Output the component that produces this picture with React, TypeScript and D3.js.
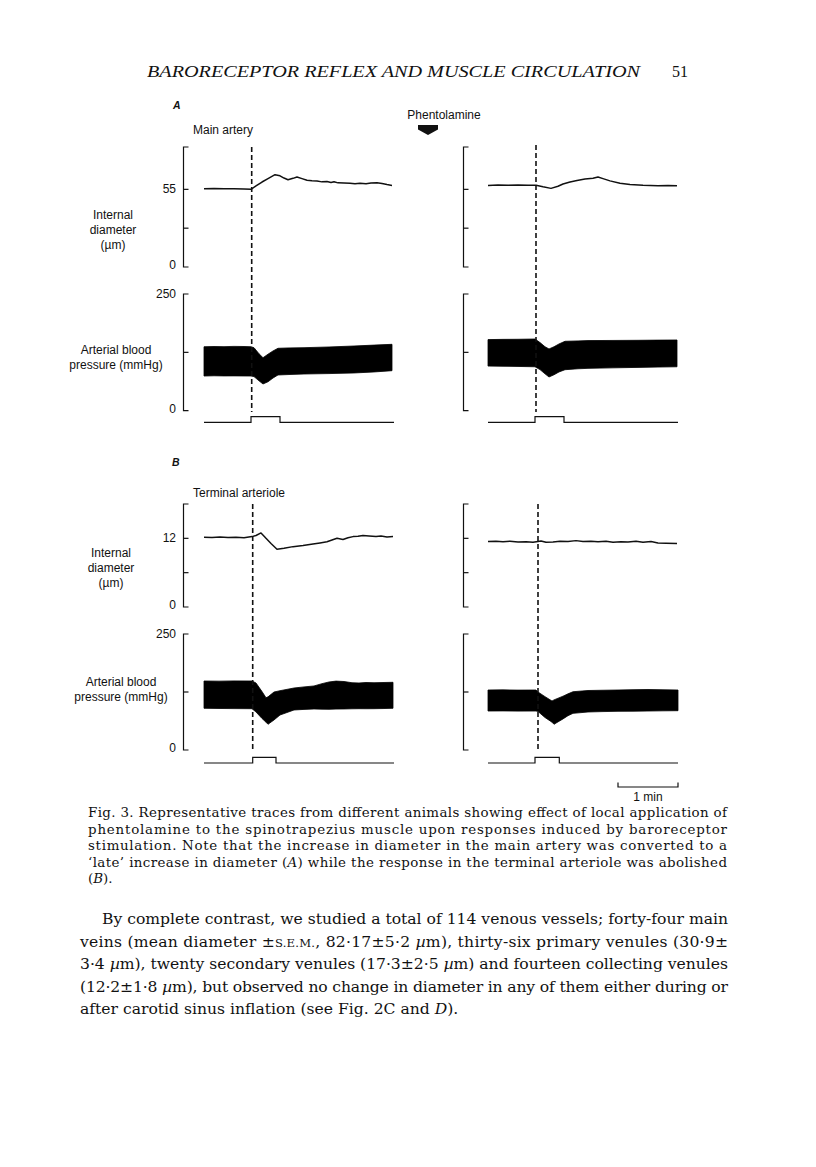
import * as d3 from "d3";
import React from "react";

// time (s from start of trace), diameter (µm)
const arteryDiamControl: [number, number][] = [
  [0, 55.5], [10, 55.6], [20, 55.4], [30, 55.4], [40, 55.2], [47, 55.0],
  [52, 57.4], [58, 60.2], [64, 62.6], [71, 65.4], [76, 64.6], [80, 63.0],
  [84, 61.8], [89, 62.8], [93, 63.7], [98, 62.6], [103, 61.4], [108, 61.1],
  [113, 60.9], [118, 60.3], [123, 60.6], [127, 59.9], [130, 60.4], [134, 59.6],
  [140, 59.5], [146, 59.4], [151, 58.9], [156, 59.4], [162, 59.0], [167, 59.5],
  [173, 59.7], [178, 59.1], [183, 58.4], [188, 57.8],
];
const arteryDiamPhent: [number, number][] = [
  [0, 57.8], [10, 58.0], [20, 57.9], [30, 58.0], [40, 57.9], [48, 57.9],
  [55, 56.8], [63, 55.7], [70, 57.2], [75, 58.8], [82, 60.2], [89, 61.3],
  [97, 62.3], [105, 62.9], [110, 63.7], [115, 62.6], [122, 61.0], [132, 59.3],
  [142, 58.4], [155, 57.9], [170, 57.6], [180, 57.8], [189, 57.6],
];
const arterioleDiamControl: [number, number][] = [
  [0, 12.2], [8, 12.15], [16, 12.25], [24, 12.15], [32, 12.2], [40, 12.1],
  [48, 12.3], [52, 12.5], [57, 12.95], [62, 12.0], [67, 11.1], [73, 10.1],
  [80, 10.25], [89, 10.55], [99, 10.75], [109, 11.0], [116, 11.2], [123, 11.4],
  [128, 11.7], [133, 12.0], [139, 11.8], [144, 12.1], [149, 12.3], [154, 12.35],
  [159, 12.5], [165, 12.4], [172, 12.3], [177, 12.4], [183, 12.25], [189, 12.3],
];
const arterioleDiamPhent: [number, number][] = [
  [0, 11.45], [8, 11.5], [15, 11.4], [22, 11.5], [30, 11.35], [38, 11.4],
  [45, 11.3], [50, 11.45], [53, 11.55], [58, 11.3], [65, 11.35], [72, 11.5],
  [80, 11.45], [88, 11.6], [95, 11.45], [103, 11.5], [110, 11.4], [118, 11.5],
  [125, 11.3], [133, 11.4], [140, 11.35], [148, 11.5], [155, 11.3], [163, 11.45],
  [170, 11.2], [178, 11.15], [189, 11.1],
];

// time, diastolic, systolic (mmHg)
const bpArteryControl: [number, number, number][] = [
  [0, 74.3, 137], [10, 74.8, 137.5], [20, 74.5, 137.2], [30, 74.6, 137.8],
  [40, 74.4, 137.5], [47, 74.3, 137], [50, 73, 135], [55, 64, 122],
  [59, 57.2, 113.5], [64, 62, 121], [69, 70, 128], [74, 76.5, 133.7],
  [85, 77.5, 134.5], [100, 78.6, 135], [125, 79.5, 136.5], [150, 80.8, 138.6],
  [170, 83, 140.5], [188, 85.7, 142.2],
];
const bpArteryPhent: [number, number, number][] = [
  [0, 95.6, 152.3], [15, 95.2, 152.8], [30, 94.8, 153], [47, 94.1, 153.6],
  [52, 88, 146], [57, 79, 137], [61, 72.2, 132.3], [66, 77, 137],
  [71, 83, 143], [77, 87.8, 148.7], [90, 89.8, 149.5], [100, 90.7, 150.2],
  [125, 91.8, 150.5], [150, 92.8, 150.8], [170, 93.5, 151.2], [189, 94.1, 151.5],
];
const bpArterioleControl: [number, number, number][] = [
  [0, 89.9, 148.7], [15, 89.5, 148.4], [30, 89.2, 148.9], [48, 89, 148.7],
  [52, 81.9, 144.4], [58, 68, 126], [62, 60, 112.7], [64, 55.4, 114.5],
  [70, 64.7, 125], [76, 75.4, 127.8], [90, 86.2, 133.6], [100, 87.5, 136],
  [110, 88.4, 138], [118, 88, 143], [125, 87.7, 146.6], [132, 88.2, 148.5],
  [140, 88.4, 147.6], [148, 88.8, 145], [155, 89, 144.4], [162, 88.9, 145.5],
  [170, 89, 145], [180, 89.4, 145.5], [189, 89.9, 145.9],
];
const bpArteriolePhent: [number, number, number][] = [
  [0, 84, 129.3], [15, 84.2, 129.6], [30, 83.8, 129.1], [48, 84, 129.3],
  [50, 83, 125], [57, 70, 115], [64, 60, 105.6], [66, 55.4, 108],
  [75, 67, 116], [80, 74, 121], [85, 79, 125.6], [100, 81.9, 128.2],
  [115, 82.8, 128.8], [130, 83.4, 129.3], [145, 83.6, 130], [160, 84, 130.4],
  [175, 84.4, 129.8], [190, 84.7, 129.3],
];

// stimulus (carotid sinus) on / off, s
const stimArteryControl = [47, 76];
const stimArteryPhent = [47, 76];
const stimArterioleControl = [48.7, 72];
const stimArteriolePhent = [47, 71.3];
const onsetMarks = [47.7, 48, 48.7, 50];

const diamTicksArtery = [27.5, 55];
const diamTicksArteriole = [6, 12];
const bpTicks = [125];

const captionLines = [
  "Fig. 3. Representative traces from different animals showing effect of local application of",
  "phentolamine to the spinotrapezius muscle upon responses induced by baroreceptor",
  "stimulation. Note that the increase in diameter in the main artery was converted to a",
];

const SANS = "'Liberation Sans', Arial, sans-serif";
const SERIF = "'Liberation Serif', 'Times New Roman', serif";
const BOOK = "'DejaVu Serif', serif";

const tDomain: [number, number] = [0, 190];
const xLeft = d3.scaleLinear().domain(tDomain).range([204, 394]);
const xRight = d3.scaleLinear().domain(tDomain).range([488, 678]);
const axisLeftX = 183.5;
const axisRightX = 463.5;

const yDiamA = d3.scaleLinear().domain([0, 85]).range([267, 147]);
const yBpA = d3.scaleLinear().domain([0, 250]).range([410.7, 294]);
const yStimA = d3.scaleLinear().domain([0, 1]).range([422.3, 416.7]);
const yDiamB = d3.scaleLinear().domain([0, 18]).range([607, 504]);
const yBpB = d3.scaleLinear().domain([0, 250]).range([750, 634]);
const yStimB = d3.scaleLinear().domain([0, 1]).range([763, 757.3]);

function Axis({ x, y, ticks }: { x: number; y: d3.ScaleLinear<number, number>; ticks: number[] }) {
  const [y0, y1] = y.range();
  return (
    <g stroke="#111" strokeWidth={1.2} fill="none">
      <path d={`M${x + 5},${y1}H${x}V${y0}H${x + 5}`} />
      {ticks.map((t) => (
        <line key={t} x1={x} x2={x + 5} y1={y(t)} y2={y(t)} />
      ))}
    </g>
  );
}

function Trace({ x, y, data }: { x: d3.ScaleLinear<number, number>; y: d3.ScaleLinear<number, number>; data: [number, number][] }) {
  const line = d3.line<[number, number]>().x((d) => x(d[0])).y((d) => y(d[1]));
  return <path d={line(data) || ""} fill="none" stroke="#111" strokeWidth={1.5} strokeLinejoin="round" />;
}

function Band({ x, y, data }: { x: d3.ScaleLinear<number, number>; y: d3.ScaleLinear<number, number>; data: [number, number, number][] }) {
  const area = d3.area<[number, number, number]>().x((d) => x(d[0])).y0((d) => y(d[1])).y1((d) => y(d[2]));
  return <path d={area(data) || ""} fill="#000" stroke="#000" strokeWidth={0.8} />;
}

function Stim({ x, y, win }: { x: d3.ScaleLinear<number, number>; y: d3.ScaleLinear<number, number>; win: number[] }) {
  const pts: [number, number][] = [
    [tDomain[0], 0], [win[0], 0], [win[0], 1], [win[1], 1], [win[1], 0], [tDomain[1], 0],
  ];
  const line = d3.line<[number, number]>().x((d) => x(d[0])).y((d) => y(d[1]));
  return <path d={line(pts) || ""} fill="none" stroke="#111" strokeWidth={1.2} />;
}

function Onset({ x, t, top, bottom }: { x: d3.ScaleLinear<number, number>; t: number; top: number; bottom: number }) {
  return <line x1={x(t)} x2={x(t)} y1={top} y2={bottom} stroke="#111" strokeWidth={1.6} strokeDasharray="5,3" />;
}

function SideLabel({ x, y, lines }: { x: number; y: number; lines: string[] }) {
  return (
    <text x={x} y={y} textAnchor="middle" fontFamily={SANS} fontSize={12} fill="#111">
      {lines.map((l, i) => (
        <tspan key={i} x={x} dy={i === 0 ? 0 : 15}>{l}</tspan>
      ))}
    </text>
  );
}

export default function App() {
  const tickText = { fontFamily: SANS, fontSize: 12, fill: "#111", textAnchor: "end" as const };
  return (
    <svg width={816} height={1167} style={{ position: "absolute", left: 0, top: 0, background: "#fff" }}>
      {/* running head */}
      <text x={147} y={77} fontFamily={SERIF} fontStyle="italic" fontSize={16} textLength={493} lengthAdjust="spacingAndGlyphs" fill="#111">
        BARORECEPTOR REFLEX AND MUSCLE CIRCULATION
      </text>
      <text x={672} y={77} fontFamily={SERIF} fontSize={16} fill="#111">51</text>

      {/* panel A */}
      <text x={173} y={109} fontFamily={SANS} fontStyle="italic" fontWeight="bold" fontSize={10.5} fill="#111">A</text>
      <text x={193} y={134} fontFamily={SANS} fontSize={12} fill="#111">Main artery</text>
      <text x={444} y={119} fontFamily={SANS} fontSize={12} textAnchor="middle" fill="#111">Phentolamine</text>
      <path d="M418,125H438V129.5L428,135L418,129.5Z" fill="#111" />

      <Axis x={axisLeftX} y={yDiamA} ticks={diamTicksArtery} />
      <Axis x={axisRightX} y={yDiamA} ticks={diamTicksArtery} />
      <text {...tickText} x={176} y={yDiamA(55) + 4}>55</text>
      <text {...tickText} x={176} y={yDiamA(0) + 2}>0</text>
      <SideLabel x={113} y={219} lines={["Internal", "diameter", "(\u00b5m)"]} />
      <Trace x={xLeft} y={yDiamA} data={arteryDiamControl} />
      <Trace x={xRight} y={yDiamA} data={arteryDiamPhent} />

      <Axis x={axisLeftX} y={yBpA} ticks={bpTicks} />
      <Axis x={axisRightX} y={yBpA} ticks={bpTicks} />
      <text {...tickText} x={176} y={yBpA(250) + 4}>250</text>
      <text {...tickText} x={176} y={yBpA(0) + 2}>0</text>
      <SideLabel x={116} y={354} lines={["Arterial blood", "pressure (mmHg)"]} />
      <Band x={xLeft} y={yBpA} data={bpArteryControl} />
      <Band x={xRight} y={yBpA} data={bpArteryPhent} />
      <Stim x={xLeft} y={yStimA} win={stimArteryControl} />
      <Stim x={xRight} y={yStimA} win={stimArteryPhent} />
      <Onset x={xLeft} t={onsetMarks[0]} top={147} bottom={412} />
      <Onset x={xRight} t={onsetMarks[1]} top={145} bottom={412} />

      {/* panel B */}
      <text x={172} y={466} fontFamily={SANS} fontStyle="italic" fontWeight="bold" fontSize={10.5} fill="#111">B</text>
      <text x={193} y={497} fontFamily={SANS} fontSize={12} fill="#111">Terminal arteriole</text>

      <Axis x={axisLeftX} y={yDiamB} ticks={diamTicksArteriole} />
      <Axis x={axisRightX} y={yDiamB} ticks={diamTicksArteriole} />
      <text {...tickText} x={176} y={yDiamB(12) + 4}>12</text>
      <text {...tickText} x={176} y={yDiamB(0) + 2}>0</text>
      <SideLabel x={111} y={557} lines={["Internal", "diameter", "(\u00b5m)"]} />
      <Trace x={xLeft} y={yDiamB} data={arterioleDiamControl} />
      <Trace x={xRight} y={yDiamB} data={arterioleDiamPhent} />

      <Axis x={axisLeftX} y={yBpB} ticks={bpTicks} />
      <Axis x={axisRightX} y={yBpB} ticks={bpTicks} />
      <text {...tickText} x={176} y={yBpB(250) + 4}>250</text>
      <text {...tickText} x={176} y={yBpB(0) + 2}>0</text>
      <SideLabel x={121} y={686} lines={["Arterial blood", "pressure (mmHg)"]} />
      <Band x={xLeft} y={yBpB} data={bpArterioleControl} />
      <Band x={xRight} y={yBpB} data={bpArteriolePhent} />
      <Stim x={xLeft} y={yStimB} win={stimArterioleControl} />
      <Stim x={xRight} y={yStimB} win={stimArteriolePhent} />
      <Onset x={xLeft} t={onsetMarks[2]} top={504} bottom={751} />
      <Onset x={xRight} t={onsetMarks[3]} top={504} bottom={751} />

      {/* time scale bar */}
      <path d={`M${xRight(130)},782.5V787H${xRight(190)}V782.5`} fill="none" stroke="#111" strokeWidth={1.2} />
      <text x={(xRight(130) + xRight(190)) / 2} y={801} textAnchor="middle" fontFamily={SANS} fontSize={12} fill="#111">1 min</text>

      {/* legend */}
      <g fontFamily={BOOK} fontSize={13.4} fill="#111">
        {captionLines.map((l, i) => (
          <text key={i} x={88} y={817 + i * 16.6} textLength={639} lengthAdjust="spacing">{l}</text>
        ))}
        <text x={88} y={817 + 3 * 16.6} textLength={639} lengthAdjust="spacing">
          {"\u2018late\u2019 increase in diameter ("}<tspan fontStyle="italic">A</tspan>
          {") while the response in the terminal arteriole was abolished"}
        </text>
        <text x={88} y={817 + 4 * 16.6}>
          (<tspan fontStyle="italic">B</tspan>).
        </text>
      </g>

      {/* body text */}
      <g fontFamily={BOOK} fontSize={15.6} fill="#111">
        <text x={102} y={924} textLength={626} lengthAdjust="spacing">
          By complete contrast, we studied a total of 114 venous vessels; forty-four main
        </text>
        <text x={80} y={946.5} textLength={648} lengthAdjust="spacing">
          {"veins (mean diameter \u00b1"}<tspan fontSize={11.6}>S.E.M.</tspan>
          {", 82\u00b717\u00b15\u00b72 "}<tspan fontStyle="italic">{"\u00b5"}</tspan>
          {"m), thirty-six primary venules (30\u00b79\u00b1"}
        </text>
        <text x={80} y={969} textLength={648} lengthAdjust="spacing">
          {"3\u00b74 "}<tspan fontStyle="italic">{"\u00b5"}</tspan>
          {"m), twenty secondary venules (17\u00b73\u00b12\u00b75 "}<tspan fontStyle="italic">{"\u00b5"}</tspan>
          {"m) and fourteen collecting venules"}
        </text>
        <text x={80} y={991.5} textLength={648} lengthAdjust="spacing">
          {"(12\u00b72\u00b11\u00b78 "}<tspan fontStyle="italic">{"\u00b5"}</tspan>
          {"m), but observed no change in diameter in any of them either during or"}
        </text>
        <text x={80} y={1014}>
          {"after carotid sinus inflation (see Fig. 2C and "}<tspan fontStyle="italic">D</tspan>{")."}
        </text>
      </g>
    </svg>
  );
}
